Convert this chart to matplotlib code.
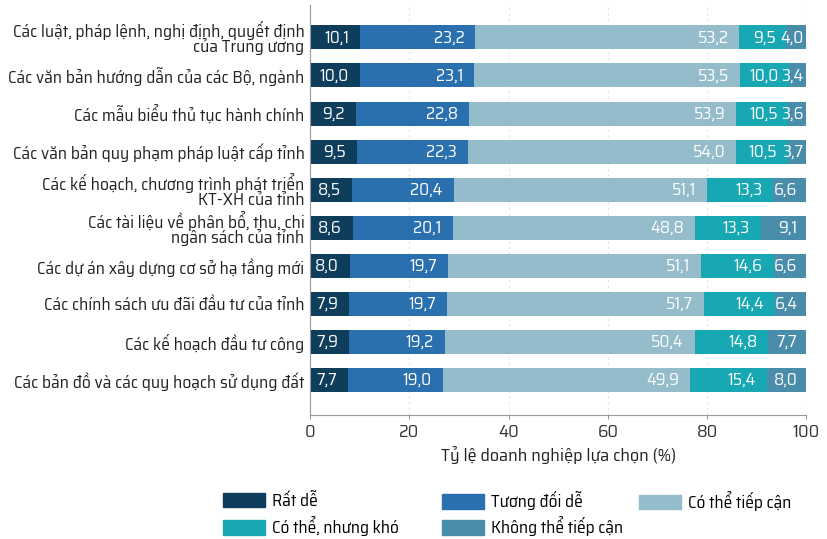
import numpy as np
import matplotlib
matplotlib.use("Agg")
import matplotlib.pyplot as plt
from matplotlib import font_manager
from matplotlib.patches import Patch

names = {f.name for f in font_manager.fontManager.ttflist}
fam = next((n for n in ["Saira SemiCondensed", "Saira Semi Condensed", "Saira Condensed", "Roboto Condensed"]
            if n in names), "Roboto")
plt.rcParams["font.family"] = [fam, "DejaVu Sans"]

categories = [
    "Các luật, pháp lệnh, nghị định, quyết định\ncủa Trung ương",
    "Các văn bản hướng dẫn của các Bộ, ngành",
    "Các mẫu biểu thủ tục hành chính",
    "Các văn bản quy phạm pháp luật cấp tỉnh",
    "Các kế hoạch, chương trình phát triển\nKT-XH của tỉnh",
    "Các tài liệu về phân bổ, thu, chi\nngân sách của tỉnh",
    "Các dự án xây dựng cơ sở hạ tầng mới",
    "Các chính sách ưu đãi đầu tư của tỉnh",
    "Các kế hoạch đầu tư công",
    "Các bản đồ và các quy hoạch sử dụng đất",
]
series_names = ["Rất dễ", "Tương đối dễ", "Có thể tiếp cận", "Có thể, nhưng khó", "Không thể tiếp cận"]
rat_de = [10.1, 10.0, 9.2, 9.5, 8.5, 8.6, 8.0, 7.9, 7.9, 7.7]
tuong_doi_de = [23.2, 23.1, 22.8, 22.3, 20.4, 20.1, 19.7, 19.7, 19.2, 19.0]
co_the = [53.2, 53.5, 53.9, 54.0, 51.1, 48.8, 51.1, 51.7, 50.4, 49.9]
co_the_kho = [9.5, 10.0, 10.5, 10.5, 13.3, 13.3, 14.6, 14.4, 14.8, 15.4]
khong_the = [4.0, 3.4, 3.6, 3.7, 6.6, 9.1, 6.6, 6.4, 7.7, 8.0]
colors = ["#0f3d5c", "#2a6fae", "#94bccb", "#17a8b4", "#4a8dab"]

fig = plt.figure(figsize=(8.27, 5.39), dpi=100)
ax = fig.add_axes([0.375, 0.23, 0.6, 0.76])

y = np.arange(len(categories))
left = np.zeros(len(categories))
all_series = [rat_de, tuong_doi_de, co_the, co_the_kho, khong_the]
for k, (vals, col) in enumerate(zip(all_series, colors)):
    vals = np.array(vals)
    ax.barh(y, vals, left=left, height=0.63, color=col, zorder=2)
    for yi, l, v in zip(y, left, vals):
        pad = 2.2
        if k == 4:
            pad = 0.6 if v < 5 else 1.8
        ax.text(l + v - pad, yi, f"{v:.1f}".replace(".", ","), ha="right", va="center",
                color="white", fontsize=12.5, zorder=3)
    left += vals

ax.set_xlim(0, 100)
ax.set_ylim(9.92, -0.84)
ax.set_yticks(y)
ax.set_yticklabels(categories, fontsize=12.6, color="#222222", multialignment="right",
                   linespacing=0.9)
ax.tick_params(axis="y", length=0, pad=4)
ax.set_xticks([0, 20, 40, 60, 80, 100])
ax.tick_params(axis="x", colors="#999999", labelcolor="#333333", labelsize=13, length=3)
ax.set_xlabel("Tỷ lệ doanh nghiệp lựa chọn (%)", fontsize=13, color="#222222", labelpad=4)
ax.grid(axis="x", color="#e2e2e2", linestyle=(0, (2, 3)), linewidth=0.8, zorder=0)
for s in ["top", "right"]:
    ax.spines[s].set_visible(False)
ax.spines["left"].set_color("#999999")
ax.spines["bottom"].set_color("#999999")

# legend: one entry per slot, laid out row by row like the original
slot_x = [223, 442, 639, 223, 442]
slot_y = [501, 501, 501, 526.5, 526.5]
for i in range(len(series_names)):
    fig.legend([Patch(color=colors[i])], [series_names[i]],
               loc="center left", bbox_to_anchor=(slot_x[i] / 827, 1 - slot_y[i] / 539),
               frameon=False, fontsize=12.5, borderpad=0, borderaxespad=0,
               handlelength=2.4, handleheight=0.92, handletextpad=0.4)

fig.savefig("out.png", dpi=100)
